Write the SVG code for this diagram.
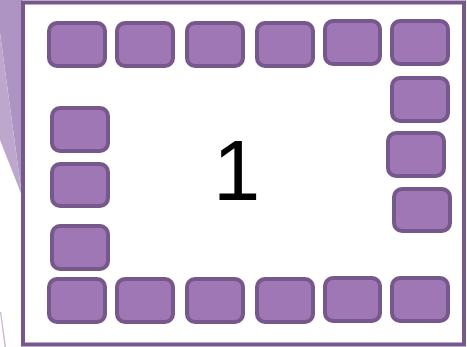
<svg xmlns="http://www.w3.org/2000/svg" width="467" height="347" viewBox="0 0 467 347">
<style>
.n{fill:#9e77b4;stroke:#76588c;stroke-width:4}
.bg1{fill:#ae94c3}
.bg2{fill:#bda7cd}
</style>
<rect x="0" y="0" width="467" height="347" fill="#ffffff"/>
<polygon class="bg1" points="0,0 22,0 22,196 0,33"/>
<polygon class="bg2" points="0,33 22,196 0,140"/>
<polygon points="0,312 1.2,312 6,347 4.5,347" fill="#c8b6d6"/>
<rect x="23" y="2.5" width="441" height="342" fill="#ffffff" stroke="#76588c" stroke-width="4"/>
<g id="nodes">
<g id="t1"><rect class="n" x="49" y="23" width="56" height="43" rx="8"/></g>
<g id="t2"><rect class="n" x="117" y="23" width="56" height="43" rx="8"/></g>
<g id="t3"><rect class="n" x="187" y="23" width="56" height="43" rx="8"/></g>
<g id="t4"><rect class="n" x="257" y="23" width="56" height="43" rx="8"/></g>
<g id="t5"><rect class="n" x="325" y="21" width="55" height="43" rx="8"/></g>
<g id="t6"><rect class="n" x="392" y="21" width="56" height="43" rx="8"/></g>
<g id="r1"><rect class="n" x="392" y="78" width="56" height="43" rx="8"/></g>
<g id="r2"><rect class="n" x="388" y="133" width="56" height="43" rx="8"/></g>
<g id="r3"><rect class="n" x="394" y="189" width="56" height="42" rx="8"/></g>
<g id="l1"><rect class="n" x="52" y="108" width="56" height="43" rx="8"/></g>
<g id="l2"><rect class="n" x="52" y="164" width="56" height="42" rx="8"/></g>
<g id="l3"><rect class="n" x="52" y="226" width="56" height="43" rx="8"/></g>
<g id="b1"><rect class="n" x="49" y="279" width="56" height="43" rx="8"/></g>
<g id="b2"><rect class="n" x="117" y="279" width="56" height="43" rx="8"/></g>
<g id="b3"><rect class="n" x="187" y="279" width="56" height="43" rx="8"/></g>
<g id="b4"><rect class="n" x="257" y="279" width="56" height="43" rx="8"/></g>
<g id="b5"><rect class="n" x="325" y="278" width="55" height="43" rx="8"/></g>
<g id="b6"><rect class="n" x="392" y="278" width="56" height="43" rx="8"/></g>
</g>
<g id="connectors"/>
<text x="213" y="200" font-family="Liberation Sans, Arial, sans-serif" font-size="85" fill="#000000">1</text>
</svg>
